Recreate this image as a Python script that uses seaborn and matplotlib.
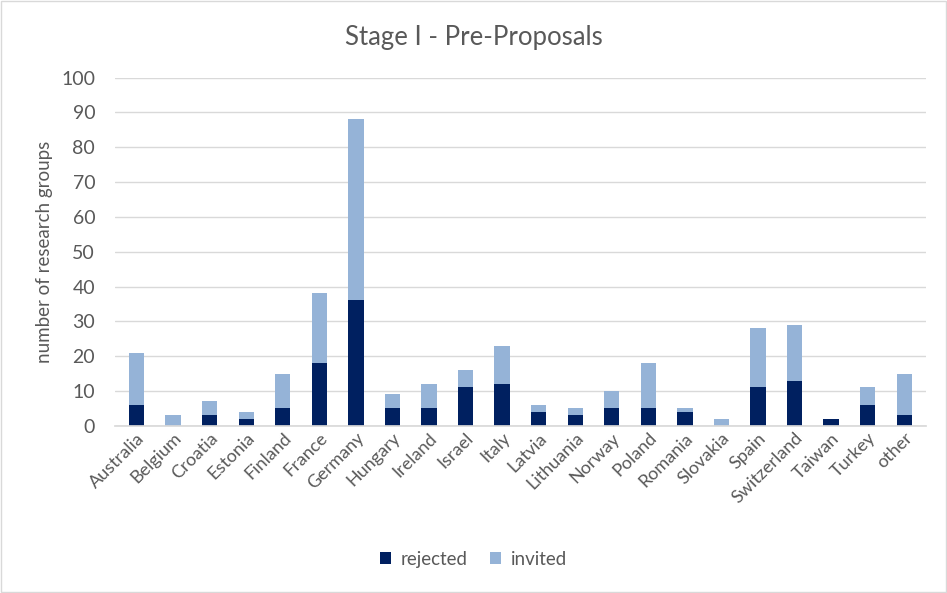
import pandas as pd
import matplotlib.pyplot as plt
import seaborn as sns

countries = ['Australia', 'Belgium', 'Croatia', 'Estonia', 'Finland', 'France', 'Germany',
             'Hungary', 'Ireland', 'Israel', 'Italy', 'Latvia', 'Lithuania', 'Norway',
             'Poland', 'Romania', 'Slovakia', 'Spain', 'Switzerland', 'Taiwan', 'Turkey', 'other']
rejected = [6, 0, 3, 2, 5, 18, 36, 5, 5, 11, 12, 4, 3, 5, 5, 4, 0, 11, 13, 2, 6, 3]
invited = [15, 3, 4, 2, 10, 20, 52, 4, 7, 5, 11, 2, 2, 5, 13, 1, 2, 17, 16, 0, 5, 12]

DARK = '#002060'
LIGHT = '#95B3D7'
GREY = '#595959'

df = pd.DataFrame({'country': countries, 'rejected': rejected, 'invited': invited})
df['total'] = df['rejected'] + df['invited']

sns.set_theme(style='white')
plt.rcParams['font.family'] = ['Lato', 'DejaVu Sans']

fig = plt.figure(figsize=(9.47, 5.93), dpi=100)
ax = fig.add_axes([0.121, 0.282, 0.857, 0.587])

# stacked: draw totals in light, then rejected on top in dark
sns.barplot(data=df, x='country', y='total', color=LIGHT, width=0.42, ax=ax,
            label='invited', saturation=1, linewidth=0)
sns.barplot(data=df, x='country', y='rejected', color=DARK, width=0.42, ax=ax,
            label='rejected', saturation=1, linewidth=0)

ax.set_ylim(0, 100)
ax.set_xlim(-0.6, len(countries) - 0.4)
ax.set_yticks(range(0, 101, 10))
ax.yaxis.grid(True, color='#D9D9D9', linewidth=1)
ax.set_axisbelow(True)
for s in ['top', 'right', 'left']:
    ax.spines[s].set_visible(False)
ax.spines['bottom'].set_color('#D9D9D9')
ax.tick_params(axis='y', length=0, labelsize=14, colors=GREY, pad=14)
ax.tick_params(axis='x', length=0, labelsize=13, colors=GREY, pad=3)
plt.setp(ax.get_xticklabels(), rotation=45, ha='right', rotation_mode='anchor')
ax.set_xlabel('')
ax.set_ylabel('number of research groups', fontsize=13.5, color=GREY, labelpad=6)
fig.text(0.5, 0.937, 'Stage I - Pre-Proposals', fontsize=18.5, color=GREY,
         ha='center', va='center')

handles, labels = ax.get_legend_handles_labels()
if ax.legend_ is not None:
    ax.legend_.remove()
order = [labels.index('rejected'), labels.index('invited')]
fig.legend([handles[i] for i in order], [labels[i] for i in order],
           loc='center', bbox_to_anchor=(0.5, 0.057), ncol=2, frameon=False,
           fontsize=13.5, labelcolor=GREY, handlelength=0.6, handleheight=0.6,
           columnspacing=1.2, handletextpad=0.5)

fig.patches.append(plt.Rectangle((0.001, 0.001), 0.998, 0.998, transform=fig.transFigure,
                                 fill=False, edgecolor='#D9D9D9', linewidth=1))
fig.savefig('out.png', dpi=100)
